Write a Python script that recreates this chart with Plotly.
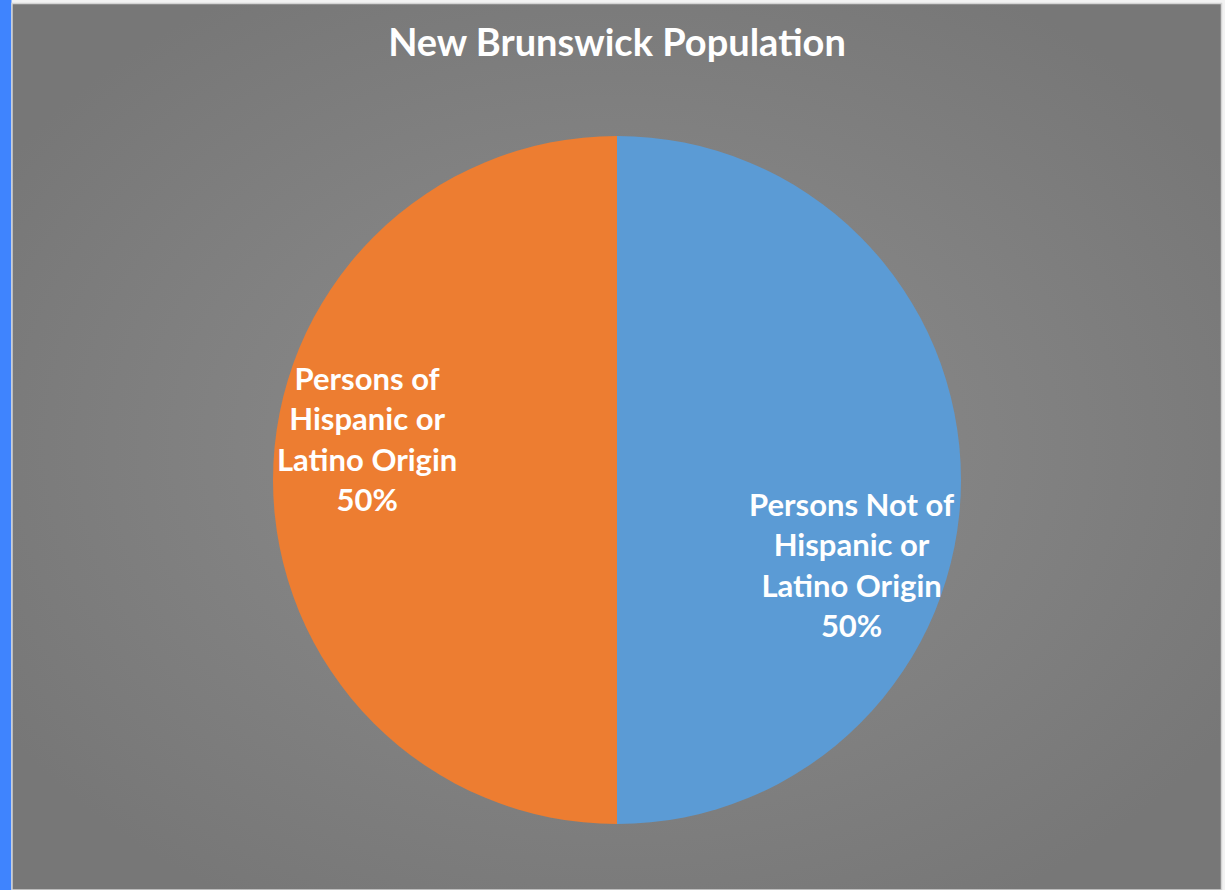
import base64
import plotly.graph_objects as go

# Data
labels = ["Persons Not of Hispanic or Latino Origin", "Persons of Hispanic or Latino Origin"]
label_lines = [["Persons Not of", "Hispanic or", "Latino Origin"],
               ["Persons of", "Hispanic or", "Latino Origin"]]
values = [50, 50]
colors = ["#5B9BD5", "#ED7D31"]
title_text = "New Brunswick Population"

W, H = 1225, 890

def px_x(x):
    return x / W

def px_y(y):
    return 1 - y / H

fig = go.Figure()

cx, cy, r = 617, 480, 344
fig.add_trace(go.Pie(
    labels=labels,
    values=values,
    marker=dict(colors=colors, line=dict(width=0)),
    sort=False,
    direction="clockwise",
    rotation=0,
    textinfo="none",
    hoverinfo="label+percent",
    showlegend=False,
    domain=dict(x=[px_x(cx - r), px_x(cx + r)], y=[px_y(cy + r), px_y(cy - r)]),
))

total = sum(values)
label_pos = [(851, 564), (367, 439)]
for lines, v, (lx, ly) in zip(label_lines, values, label_pos):
    txt = "<br>".join(lines + [f"{round(100 * v / total)}%"])
    fig.add_annotation(
        x=px_x(lx), y=px_y(ly), xref="paper", yref="paper",
        text=txt, showarrow=False, align="center",
        font=dict(family="Lato", size=31, color="white", weight="bold"),
        xanchor="center", yanchor="middle",
    )

# Radial gradient background as SVG
svg = '''<svg xmlns="http://www.w3.org/2000/svg" width="1210" height="886" viewBox="0 0 1210 886">
<defs><radialGradient id="g" cx="50%" cy="50%" r="60%">
<stop offset="0%" stop-color="#8e8e8e"/>
<stop offset="100%" stop-color="#777777"/>
</radialGradient></defs>
<rect width="1210" height="886" fill="url(#g)"/>
</svg>'''
src = "data:image/svg+xml;base64," + base64.b64encode(svg.encode()).decode()

fig.update_layout(
    width=W, height=H,
    margin=dict(l=0, r=0, t=0, b=0),
    paper_bgcolor="#f2f2f2",
    plot_bgcolor="rgba(0,0,0,0)",
    title=dict(text=title_text, x=px_x(617), y=px_y(43), xanchor="center", yanchor="middle",
               font=dict(family="Lato", size=38, color="white", weight="bold")),
    images=[dict(source=src, xref="paper", yref="paper", x=px_x(12), y=px_y(4),
                 sizex=px_x(1221) - px_x(12), sizey=px_y(4) - px_y(890),
                 xanchor="left", yanchor="top", sizing="stretch", layer="below")],
    shapes=[
        dict(type="rect", xref="paper", yref="paper", x0=0, x1=px_x(11.5), y0=0, y1=1,
             fillcolor="#3F84FE", line=dict(width=0), layer="above"),
        dict(type="rect", xref="paper", yref="paper", x0=px_x(12), x1=px_x(1221.5),
             y0=px_y(890), y1=px_y(3.5), fillcolor="rgba(0,0,0,0)",
             line=dict(color="#d4d4d4", width=1.5), layer="above"),
    ],
)

fig.write_html("out.html")
